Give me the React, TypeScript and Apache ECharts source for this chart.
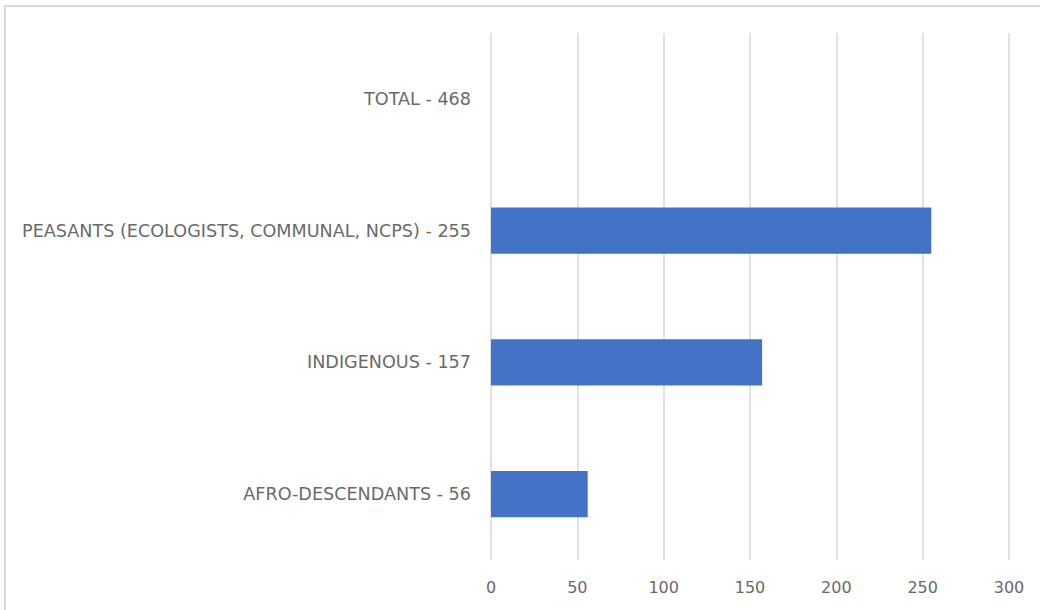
import React, { useEffect, useRef } from "react";
import * as echarts from "echarts";

const categories = [
  "AFRO-DESCENDANTS - 56",
  "INDIGENOUS - 157",
  "PEASANTS (ECOLOGISTS, COMMUNAL, NCPS) - 255",
  "TOTAL - 468",
];
const values: (number | null)[] = [56, 157, 255, null];
const axisMin = 0;
const axisMax = 300;
const axisStep = 50;

export default function App() {
  const ref = useRef<HTMLDivElement>(null);
  useEffect(() => {
    document.body.style.margin = "0";
    const chart = echarts.init(ref.current!, null, { renderer: "svg" });
    chart.setOption({
      animation: false,
      backgroundColor: "#ffffff",
      graphic: [
        {
          type: "rect",
          shape: { x: 5, y: 6, width: 1100, height: 700 },
          style: { fill: "none", stroke: "#d9d9d9", lineWidth: 2 },
          silent: true,
        },
      ],
      grid: { left: 491, right: 31, top: 33, bottom: 50 },
      xAxis: {
        type: "value",
        min: axisMin,
        max: axisMax,
        interval: axisStep,
        axisLine: { show: false },
        axisTick: { show: false },
        axisLabel: {
          color: "#6a6a6a",
          fontSize: 16,
          fontFamily: "DejaVu Sans",
          margin: 19,
        },
        splitLine: { lineStyle: { color: "#d9d9d9", width: 1.5 } },
      },
      yAxis: {
        type: "category",
        data: categories,
        axisLine: { show: false },
        axisTick: { show: false },
        axisLabel: {
          color: "#6a6a6a",
          fontSize: 17.6,
          fontFamily: "DejaVu Sans",
          margin: 20,
        },
      },
      series: [
        {
          type: "bar",
          data: values,
          barWidth: "35%",
          itemStyle: { color: "#4472C4" },
        },
      ],
    });
    return () => chart.dispose();
  }, []);
  return <div ref={ref} style={{ width: 1040, height: 610 }} />;
}
